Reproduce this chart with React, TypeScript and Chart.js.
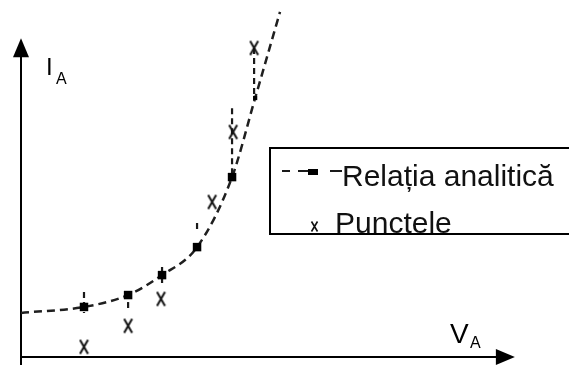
import React, { useEffect, useRef } from "react";
import { Chart, registerables } from "chart.js";

Chart.register(...registerables);

// Analytic relation (curve through computed points), units: V_A, I_A (arbitrary)
const curveV = [0, 1.8, 3.06, 4.03, 5.03, 6.03, 6.69, 7.4];
const curveI = [1.26, 1.43, 1.77, 2.34, 3.14, 5.14, 7.4, 9.86];
const curveMarkerRadius = [0, 6, 6, 6, 6, 6, 3, 0];

// Measured points ("Punctele")
const measuredV = [1.8, 3.06, 4.0, 5.46, 6.06, 6.66];
const measuredI = [0.29, 0.89, 1.66, 4.43, 6.43, 8.83];

// Vertical deviation ticks at the analytic points
const tickV = [1.8, 3.06, 4.03, 5.03, 6.03, 6.66];
const tickFrom = [1.26, 1.4, 2.0, 3.54, 5.14, 7.4];
const tickTo = [1.86, 1.57, 2.57, 3.83, 7.11, 8.83];

// Axis extents
const xAxisEnd = 14.11;
const yAxisEnd = 9.11;
const yAxisBelow = -0.23;

const seriesLabels = ["Relația analitică", "Punctele"];

function makeXMarker(w: number, h: number, lw: number): HTMLCanvasElement {
  const c = document.createElement("canvas");
  c.width = w;
  c.height = h;
  const g = c.getContext("2d")!;
  g.strokeStyle = "#111";
  g.lineWidth = lw;
  g.beginPath();
  g.moveTo(1.5, 1.5);
  g.lineTo(w - 1.5, h - 1.5);
  g.moveTo(w - 1.5, 1.5);
  g.lineTo(1.5, h - 1.5);
  g.stroke();
  return c;
}

export default function App() {
  const ref = useRef<HTMLCanvasElement | null>(null);

  useEffect(() => {
    document.body.style.margin = "0";
    const canvas = ref.current!;
    const xMarker = makeXMarker(11, 17, 2);
    const xMarkerSmall = makeXMarker(9, 13, 1.6);

    const overlay = {
      id: "overlay",
      beforeDatasetsDraw(chart: any) {
        const ctx = chart.ctx as CanvasRenderingContext2D;
        const xs = chart.scales.x;
        const ys = chart.scales.y;
        const x0 = xs.getPixelForValue(0);
        const y0 = ys.getPixelForValue(0);
        ctx.save();
        ctx.strokeStyle = "#000";
        ctx.fillStyle = "#000";
        ctx.lineWidth = 2;
        // Y axis
        const yTip = ys.getPixelForValue(yAxisEnd);
        ctx.beginPath();
        ctx.moveTo(x0, ys.getPixelForValue(yAxisBelow));
        ctx.lineTo(x0, yTip + 16);
        ctx.stroke();
        ctx.beginPath();
        ctx.moveTo(x0, yTip);
        ctx.lineTo(x0 - 8, yTip + 19);
        ctx.lineTo(x0 + 8, yTip + 19);
        ctx.closePath();
        ctx.fill();
        // X axis
        const xTip = xs.getPixelForValue(xAxisEnd);
        ctx.beginPath();
        ctx.moveTo(x0 - 1, y0);
        ctx.lineTo(xTip - 16, y0);
        ctx.stroke();
        ctx.beginPath();
        ctx.moveTo(xTip, y0);
        ctx.lineTo(xTip - 19, y0 - 8);
        ctx.lineTo(xTip - 19, y0 + 8);
        ctx.closePath();
        ctx.fill();

        // deviation ticks
        ctx.strokeStyle = "#1a1a1a";
        ctx.lineWidth = 2.2;
        ctx.setLineDash([6, 4]);
        for (let k = 0; k < tickV.length; k++) {
          const px = xs.getPixelForValue(tickV[k]);
          ctx.beginPath();
          ctx.moveTo(px, ys.getPixelForValue(tickTo[k]));
          ctx.lineTo(px, ys.getPixelForValue(tickFrom[k]));
          ctx.stroke();
        }
        ctx.setLineDash([]);

        // Axis labels
        ctx.fillStyle = "#000";
        ctx.textBaseline = "alphabetic";
        ctx.font = '24px "Liberation Sans"';
        ctx.fillText("I", 46, 75);
        ctx.font = '16px "Liberation Sans"';
        ctx.fillText("A", 56, 84);
        ctx.font = '28px "Liberation Sans"';
        ctx.fillText("V", 450, 343);
        ctx.font = '16px "Liberation Sans"';
        ctx.fillText("A", 470, 348);
        ctx.restore();
      },
      afterDraw(chart: any) {
        const ctx = chart.ctx as CanvasRenderingContext2D;
        ctx.save();
        // legend box
        ctx.fillStyle = "#fff";
        ctx.fillRect(270, 148, 400, 86);
        ctx.strokeStyle = "#000";
        ctx.lineWidth = 2;
        ctx.strokeRect(270, 148, 400, 86);
        // row 1 sample
        ctx.strokeStyle = "#1a1a1a";
        ctx.lineWidth = 2;
        ctx.beginPath();
        ctx.moveTo(282, 171);
        ctx.lineTo(290, 171);
        ctx.moveTo(298, 171);
        ctx.lineTo(318, 171);
        ctx.moveTo(330, 171);
        ctx.lineTo(342, 171);
        ctx.stroke();
        ctx.fillStyle = "#000";
        ctx.fillRect(308, 169, 10, 6);
        ctx.font = '30px "Liberation Sans"';
        ctx.textBaseline = "alphabetic";
        ctx.fillStyle = "#111";
        ctx.fillText(seriesLabels[0], 342, 186);
        // row 2
        ctx.drawImage(xMarkerSmall, 310, 220);
        ctx.fillText(seriesLabels[1], 335, 233);
        ctx.restore();
      },
    };

    const chart = new Chart(canvas, {
      type: "scatter",
      data: {
        datasets: [
          {
            label: seriesLabels[0],
            data: curveV.map((v, k) => ({ x: v, y: curveI[k] })),
            showLine: true,
            borderColor: "#1f1f1f",
            borderWidth: 2.5,
            borderDash: [8, 5],
            cubicInterpolationMode: "monotone",
            pointStyle: "rect",
            pointRadius: curveMarkerRadius,
            pointBackgroundColor: "#000",
            pointBorderWidth: 0,
            clip: false,
          } as any,
          {
            label: seriesLabels[1],
            data: measuredV.map((v, k) => ({ x: v, y: measuredI[k] })),
            showLine: false,
            pointStyle: xMarker as any,
            pointRadius: 6,
            clip: false,
          } as any,
        ],
      },
      options: {
        responsive: false,
        animation: false,
        devicePixelRatio: 1,
        layout: { padding: { left: 21, right: 23, top: 7, bottom: 10 } },
        scales: {
          x: { type: "linear", min: 0, max: 15, display: false },
          y: { type: "linear", min: 0, max: 10, display: false },
        },
        plugins: {
          legend: { display: false },
          tooltip: { enabled: false },
        },
      },
      plugins: [overlay],
    });
    return () => chart.destroy();
  }, []);

  return (
    <div style={{ position: "fixed", left: 0, top: 0, width: 569, height: 367, background: "#fff" }}>
      <canvas ref={ref} width={569} height={367} style={{ width: 569, height: 367, display: "block" }} />
    </div>
  );
}
